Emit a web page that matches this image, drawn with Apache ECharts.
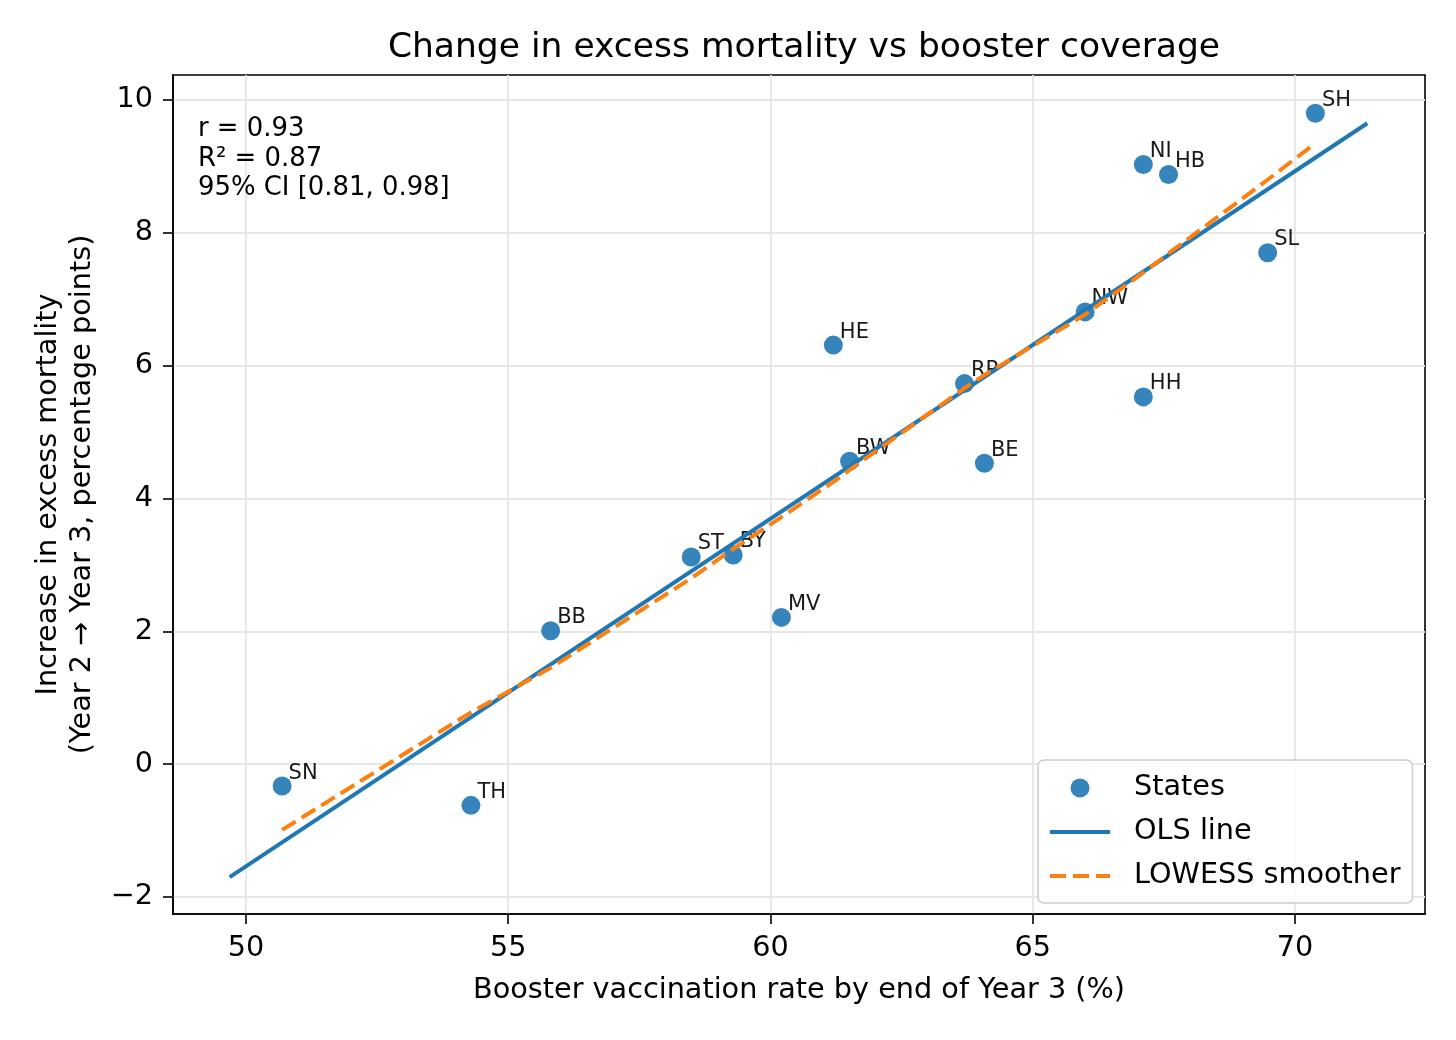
<!DOCTYPE html>
<html>
<head>
<meta charset="utf-8">
<script src="https://cdn.jsdelivr.net/npm/echarts@6/dist/echarts.min.js"></script>
<style>
  html, body { margin: 0; padding: 0; background: #fff; }
  #chart { width: 1456px; height: 1040px; }
</style>
</head>
<body>
<div id="chart"></div>
<script>
// ---- data ----
const states = ['SN','TH','BB','ST','BY','MV','HE','BW','RP','BE','NW','HH','NI','HB','SL','SH'];
const boosterRate = [50.69, 54.29, 55.81, 58.49, 59.29, 60.21, 61.20, 61.51, 63.70, 64.08, 66.00, 67.11, 67.11, 67.59, 69.48, 70.39];
const excessIncrease = [-0.33, -0.62, 2.01, 3.12, 3.15, 2.21, 6.31, 4.56, 5.73, 4.53, 6.81, 5.53, 9.03, 8.88, 7.70, 9.80];

const olsX = [49.69, 71.38];
const olsY = [-1.70, 9.65];

const lowessX = [50.69, 54.29, 55.81, 58.49, 59.29, 60.21, 61.20, 61.51, 63.70, 64.08, 66.00, 67.11, 67.11, 67.59, 69.48, 70.39];
const lowessY = [-0.99, 0.78, 1.45, 2.80, 3.24, 3.72, 4.25, 4.43, 5.66, 5.86, 6.77, 7.40, 7.40, 7.69, 8.80, 9.35];

const xTicks = [50, 55, 60, 65, 70];
const yTicks = [-2, 0, 2, 4, 6, 8, 10];

const statsText = ['r = 0.93', 'R\u00b2 = 0.87', '95% CI [0.81, 0.98]'];

const titleText = 'Change in excess mortality vs booster coverage';
const xName = 'Booster vaccination rate by end of Year 3 (%)';
const yName = 'Increase in excess mortality\n(Year 2 \u2192 Year 3, percentage points)';

// ---- build chart ----
const FONT = 'DejaVu Sans';
const chart = echarts.init(document.getElementById('chart'), null, { renderer: 'canvas' });

const scatterData = states.map((s, i) => ({ name: s, value: [boosterRate[i], excessIncrease[i]] }));
const olsData = olsX.map((x, i) => [x, olsY[i]]);
const lowessData = lowessX.map((x, i) => [x, lowessY[i]]);

const option = {
  animation: false,
  backgroundColor: '#ffffff',
  textStyle: { fontFamily: FONT },
  title: [
    {
      text: titleText,
      left: 799,
      top: 26,
      textAlign: 'center',
      textStyle: { fontFamily: FONT, fontSize: 34.5, fontWeight: 'normal', color: '#000' }
    },
    {
      text: statsText.join('\n'),
      left: 193,
      top: 110,
      textStyle: { fontFamily: FONT, fontSize: 25.9, fontWeight: 'normal', color: '#000', lineHeight: 29.5 }
    }
  ],
  grid: {
    left: 173, right: 31, top: 75, bottom: 126,
    show: true, borderColor: '#000', borderWidth: 1.6, backgroundColor: 'transparent',
    containLabel: false
  },
  legend: {
    left: 1038,
    top: 760,
    orient: 'vertical',
    padding: [13, 12, 12, 10],
    itemGap: 14,
    itemWidth: 60,
    itemHeight: 19,
    backgroundColor: 'rgba(255,255,255,0.8)',
    borderColor: '#cccccc',
    borderWidth: 1.5,
    borderRadius: 6,
    textStyle: { fontFamily: FONT, fontSize: 28.7, color: '#000', lineHeight: 30, padding: [0, 0, 0, 19] },
    data: [
      { name: 'States', icon: 'circle' },
      { name: 'OLS line', itemStyle: { opacity: 0 }, lineStyle: { width: 4 } },
      { name: 'LOWESS smoother', itemStyle: { opacity: 0 }, lineStyle: { width: 4 } }
    ]
  },
  xAxis: {
    type: 'value',
    min: 48.61,
    max: 72.48,
    name: xName,
    nameLocation: 'middle',
    nameGap: 60,
    nameTextStyle: { fontFamily: FONT, fontSize: 28.7, color: '#000', lineHeight: 34 },
    axisLine: { show: true, onZero: false, lineStyle: { color: '#000', width: 1.6 } },
    axisTick: { show: true, length: 10, customValues: xTicks, lineStyle: { color: '#000', width: 1.6 } },
    axisLabel: { customValues: xTicks, margin: 20, fontFamily: FONT, fontSize: 28.7, color: '#000' },
    splitLine: { show: true, lineStyle: { color: '#e6e6e6', width: 1.8 } }
  },
  yAxis: {
    type: 'value',
    min: -2.256,
    max: 10.377,
    name: yName,
    nameLocation: 'middle',
    nameRotate: 90,
    nameGap: 70,
    nameTextStyle: { fontFamily: FONT, fontSize: 28.7, color: '#000', lineHeight: 34, align: 'center' },
    axisLine: { show: true, onZero: false, lineStyle: { color: '#000', width: 1.6 } },
    axisTick: { show: true, length: 10, customValues: yTicks, lineStyle: { color: '#000', width: 1.6 } },
    axisLabel: {
      customValues: yTicks, margin: 20, fontFamily: FONT, fontSize: 28.7, color: '#000',
      formatter: v => String(v).replace('-', '\u2212')
    },
    splitLine: { show: true, lineStyle: { color: '#e6e6e6', width: 1.8 } }
  },
  series: [
    {
      name: 'States',
      type: 'scatter',
      symbol: 'circle',
      symbolSize: 19,
      itemStyle: { color: '#1f77b4', opacity: 0.9 },
      label: {
        show: true,
        formatter: p => p.name,
        position: 'right',
        distance: 0,
        offset: [-3, -13],
        fontFamily: FONT,
        fontSize: 21,
        color: '#000'
      },
      emphasis: { disabled: true },
      data: scatterData,
      z: 2
    },
    {
      name: 'OLS line',
      type: 'line',
      symbol: 'none',
      lineStyle: { color: '#1f77b4', width: 4, type: 'solid' },
      itemStyle: { color: '#1f77b4' },
      emphasis: { disabled: true },
      data: olsData,
      z: 3
    },
    {
      name: 'LOWESS smoother',
      type: 'line',
      symbol: 'none',
      lineStyle: { color: '#ff7f0e', width: 4, type: [16, 7] },
      itemStyle: { color: '#ff7f0e' },
      emphasis: { disabled: true },
      data: lowessData,
      z: 4
    }
  ]
};

chart.setOption(option);
</script>
</body>
</html>
